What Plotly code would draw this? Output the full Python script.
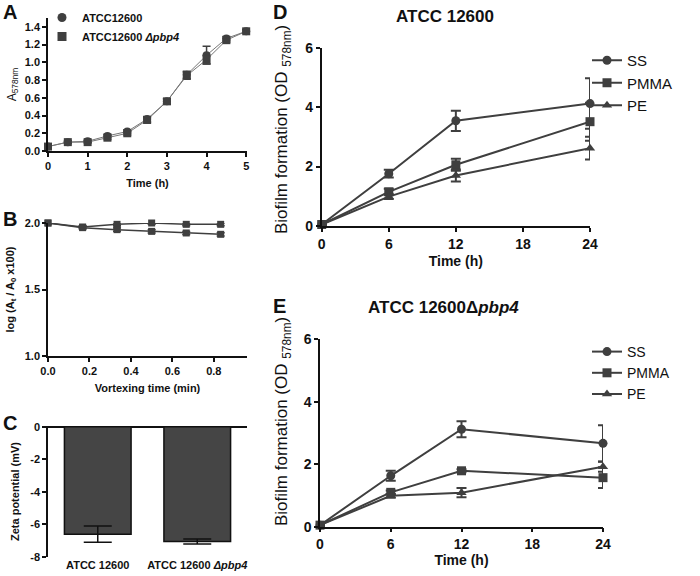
import plotly.graph_objects as go

# ---- dados ----
# A: curva de crescimento
a_time = [0, 0.5, 1, 1.5, 2, 2.5, 3, 3.5, 4, 4.5, 5]
a_wt = [0.05, 0.10, 0.11, 0.17, 0.22, 0.36, 0.56, 0.86, 1.08, 1.27, 1.35]
a_wt_err = [0.01, 0.01, 0.01, 0.02, 0.02, 0.03, 0.03, 0.04, 0.10, 0.02, 0.02]
a_mut = [0.05, 0.10, 0.10, 0.15, 0.20, 0.35, 0.56, 0.85, 1.03, 1.25, 1.35]
a_mut_err = [0.01, 0.01, 0.01, 0.02, 0.02, 0.03, 0.03, 0.04, 0.05, 0.02, 0.02]

# B: vortex
b_time = [0, 0.167, 0.333, 0.5, 0.667, 0.833]
b_wt = [2.0, 1.97, 1.99, 2.0, 1.99, 1.99]
b_wt_err = [0.005, 0.01, 0.01, 0.01, 0.01, 0.01]
b_mut = [2.0, 1.965, 1.95, 1.937, 1.925, 1.915]
b_mut_err = [0.005, 0.01, 0.012, 0.012, 0.012, 0.012]

# C: potencial zeta
c_cat = ['ATCC 12600', 'ATCC 12600 <i>Δpbp4</i>']
c_val = [-6.6, -7.05]
c_err = [0.5, 0.15]

# D / E: biofilme
de_time = [0, 6, 12, 24]
d_ss = [0.05, 1.76, 3.54, 4.12]
d_ss_err = [0.02, 0.13, 0.34, 0.85]
d_pmma = [0.05, 1.15, 2.06, 3.51]
d_pmma_err = [0.02, 0.1, 0.2, 0.64]
d_pe = [0.05, 0.99, 1.70, 2.62]
d_pe_err = [0.02, 0.08, 0.2, 0.38]

e_ss = [0.05, 1.63, 3.12, 2.67]
e_ss_err = [0.02, 0.16, 0.26, 0.58]
e_pmma = [0.05, 1.10, 1.79, 1.57]
e_pmma_err = [0.02, 0.06, 0.05, 0.33]
e_pe = [0.05, 0.99, 1.09, 1.92]
e_pe_err = [0.02, 0.06, 0.15, 0.16]

W, H = 700, 576
GREY = '#3f3f3f'
FONT = 'Arial, Liberation Sans, sans-serif'

def px(x):
    return x / W

def py(y):
    return 1 - y / H

fig = go.Figure()

# A
for y, e, sym, nm in [(a_wt, a_wt_err, 'circle', '<b>ATCC12600</b>'), (a_mut, a_mut_err, 'square', '<b>ATCC12600 <i>Δpbp4</i></b>')]:
    fig.add_trace(go.Scatter(x=a_time, y=y, mode='lines+markers', xaxis='x', yaxis='y',
                             line=dict(color='#777777', width=1),
                             marker=dict(symbol=sym, size=8, color=GREY),
                             error_y=dict(type='data', array=e, color=GREY, thickness=1.5, width=4),
                             showlegend=False, cliponaxis=False))
    fig.add_trace(go.Scatter(x=[None], y=[None], mode='markers', xaxis='x', yaxis='y', name=nm,
                             marker=dict(symbol=sym, size=9, color=GREY), legend='legend'))

# B
for y, e, sym in [(b_wt, b_wt_err, 'square'), (b_mut, b_mut_err, 'square')]:
    fig.add_trace(go.Scatter(x=b_time, y=y, mode='lines+markers', xaxis='x2', yaxis='y2',
                             line=dict(color=GREY, width=1.5),
                             marker=dict(symbol=sym, size=7, color=GREY),
                             error_y=dict(type='data', array=e, color=GREY, thickness=1.5, width=4),
                             showlegend=False, cliponaxis=False))

# C
fig.add_trace(go.Bar(x=c_cat, y=c_val, xaxis='x3', yaxis='y3',
                     marker=dict(color='#454545', line=dict(color='#111111', width=1.5)),
                     error_y=dict(type='data', array=c_err, color='#111111', thickness=1.5, width=14),
                     showlegend=False))

# D e E
for xa, ya, lg, series in [
    ('x4', 'y4', 'legend2', [(d_ss, d_ss_err, 'circle', 'SS'), (d_pmma, d_pmma_err, 'square', 'PMMA'), (d_pe, d_pe_err, 'triangle-up', 'PE')]),
    ('x5', 'y5', 'legend3', [(e_ss, e_ss_err, 'circle', 'SS'), (e_pmma, e_pmma_err, 'square', 'PMMA'), (e_pe, e_pe_err, 'triangle-up', 'PE')]),
]:
    for y, e, sym, nm in series:
        fig.add_trace(go.Scatter(x=de_time, y=y, mode='lines+markers', xaxis=xa, yaxis=ya, name=nm,
                                 line=dict(color=GREY, width=2),
                                 marker=dict(symbol=sym, size=9, color=GREY),
                                 error_y=dict(type='data', array=e, color=GREY, thickness=2, width=5),
                                 legend=lg, cliponaxis=False))

small = dict(family=FONT, size=11, color='#111111')
big = dict(family=FONT, size=14, color='#111111')

def ax(dom, rng, font, **kw):
    d = dict(domain=dom, range=rng, showline=True, linecolor='#111111', linewidth=1.5,
             ticks='outside', ticklen=4, tickwidth=1.5, tickcolor='#111111',
             showgrid=False, zeroline=False, tickfont=font, automargin=False)
    d.update(kw)
    return d

bold_small = lambda s: '<b>' + s + '</b>'

fig.update_layout(
    width=W, height=H, margin=dict(l=0, r=0, t=0, b=0),
    paper_bgcolor='white', plot_bgcolor='white',
    font=dict(family=FONT, color='#111111'),
    xaxis=ax([px(48), px(247)], [0, 5.02], small, anchor='y', tickvals=[0, 1, 2, 3, 4, 5],
             ticktext=[bold_small(str(v)) for v in range(6)],
             title=dict(text='<b>Time (h)</b>', font=dict(family=FONT, size=11), standoff=8)),
    yaxis=ax([py(151), py(18)], [0, 1.5], small, anchor='x', tickvals=[0, 0.2, 0.4, 0.6, 0.8, 1.0, 1.2, 1.4],
             ticktext=[bold_small('%.1f' % v) for v in [0, 0.2, 0.4, 0.6, 0.8, 1.0, 1.2, 1.4]],
             title=dict(text='A<sub>578nm</sub>', font=dict(family=FONT, size=12), standoff=6)),
    xaxis2=ax([px(48), px(247)], [0, 0.96], small, anchor='y2', tickvals=[0, 0.2, 0.4, 0.6, 0.8],
              ticktext=[bold_small('%.1f' % v) for v in [0, 0.2, 0.4, 0.6, 0.8]],
              title=dict(text='<b>Vortexing time (min)</b>', font=dict(family=FONT, size=11), standoff=8)),
    yaxis2=ax([py(356), py(223)], [1.0, 2.0], small, anchor='x2', tickvals=[1.0, 1.5, 2.0],
              ticktext=[bold_small('%.1f' % v) for v in [1.0, 1.5, 2.0]],
              title=dict(text='<b>log (A<sub>t</sub> / A<sub>0</sub> x100)</b>', font=dict(family=FONT, size=11), standoff=8)),
    xaxis3=dict(domain=[px(48), px(247)], anchor='y3', showline=False, ticks='', showgrid=False,
                automargin=False, tickfont=small, ticktext=[bold_small(c) for c in c_cat], tickvals=c_cat),
    yaxis3=ax([py(557), py(426)], [-8, 0.05], small, anchor='x3', tickvals=[-8, -6, -4, -2, 0],
              ticktext=[bold_small(str(v)) for v in [-8, -6, -4, -2, 0]],
              zeroline=True, zerolinecolor='#111111', zerolinewidth=1.5,
              title=dict(text='<b>Zeta potential (mV)</b>', font=dict(family=FONT, size=11), standoff=8)),
    bargap=0.33,
    xaxis4=ax([px(321.7), px(590)], [0, 24], big, anchor='y4', tickvals=[0, 6, 12, 18, 24],
              ticktext=[bold_small(str(v)) for v in [0, 6, 12, 18, 24]],
              title=dict(text='<b>Time (h)</b>', font=dict(family=FONT, size=14), standoff=6)),
    yaxis4=ax([py(226), py(47.7)], [0, 6], big, anchor='x4', tickvals=[0, 2, 4, 6],
              ticktext=[bold_small(str(v)) for v in [0, 2, 4, 6]]),
    xaxis5=ax([px(320), px(603)], [0, 24], big, anchor='y5', tickvals=[0, 6, 12, 18, 24],
              ticktext=[bold_small(str(v)) for v in [0, 6, 12, 18, 24]],
              title=dict(text='<b>Time (h)</b>', font=dict(family=FONT, size=14), standoff=2)),
    yaxis5=ax([py(526.7), py(339.3)], [0, 6], big, anchor='x5', tickvals=[0, 2, 4, 6],
              ticktext=[bold_small(str(v)) for v in [0, 2, 4, 6]]),
    legend=dict(x=px(42), y=py(3), xanchor='left', yanchor='top', bgcolor='rgba(0,0,0,0)',
                font=dict(family=FONT, size=11), tracegroupgap=0),
    legend2=dict(x=px(587), y=py(44), xanchor='left', yanchor='top', bgcolor='rgba(0,0,0,0)',
                 font=dict(family=FONT, size=15), tracegroupgap=0),
    legend3=dict(x=px(587), y=py(336), xanchor='left', yanchor='top', bgcolor='rgba(0,0,0,0)',
                 font=dict(family=FONT, size=14), tracegroupgap=0),
)

# rotulos dos paineis e titulos
anns = [
    dict(text='<b>A</b>', x=px(1), y=py(12), size=20),
    dict(text='<b>B</b>', x=px(1), y=py(219), size=20),
    dict(text='<b>C</b>', x=px(1), y=py(423), size=20),
    dict(text='<b>D</b>', x=px(271), y=py(12), size=20),
    dict(text='<b>E</b>', x=px(271), y=py(306), size=20),
]
for a in anns:
    fig.add_annotation(text=a['text'], x=a['x'], y=a['y'], xref='paper', yref='paper',
                       xanchor='left', yanchor='middle', showarrow=False,
                       font=dict(family=FONT, size=a['size'], color='#111111'))
fig.add_annotation(text='<b>ATCC 12600</b>', x=px(445), y=py(16), xref='paper', yref='paper',
                   xanchor='center', yanchor='middle', showarrow=False,
                   font=dict(family=FONT, size=17, color='#111111'))
fig.add_annotation(text='<b>ATCC 12600Δ<i>pbp4</i></b>', x=px(443), y=py(307), xref='paper', yref='paper',
                   xanchor='center', yanchor='middle', showarrow=False,
                   font=dict(family=FONT, size=17, color='#111111'))
# titulos do eixo y de D e E (um pouco acima do centro do eixo, como no original)
for yc in [130, 422]:
    fig.add_annotation(text='Biofilm formation (OD <sub>578nm</sub>)', x=px(283), y=py(yc),
                       xref='paper', yref='paper', textangle=-90, showarrow=False,
                       xanchor='center', yanchor='middle',
                       font=dict(family=FONT, size=17, color='#111111'))

# tira a margem padrao do body para a figura ocupar a janela inteira
fig.write_html("out.html", config={'displayModeBar': False},
               post_script="document.body.style.margin='0px';")
